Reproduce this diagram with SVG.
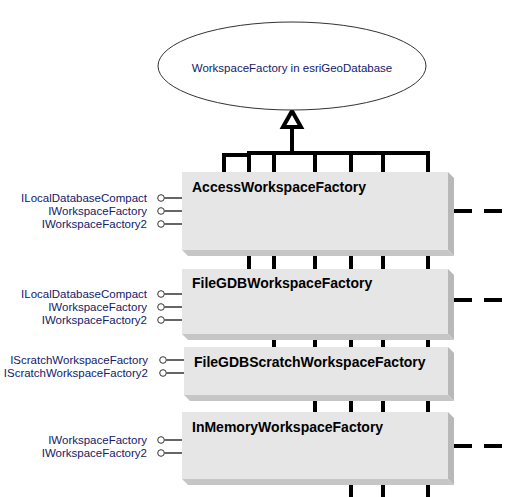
<svg xmlns="http://www.w3.org/2000/svg" width="505" height="497" viewBox="0 0 505 497">
<style>
.bus{stroke:#000;stroke-width:4;fill:none}
.dash{stroke:#000;stroke-width:4;stroke-dasharray:18 12;fill:none}
.face{fill:#e6e6e6}
.sr{fill:#b8b8b8}
.sb{fill:#c6c6c6}
.title{font-family:"Liberation Sans",Arial,sans-serif;font-weight:bold;font-size:14px;fill:#000}
.lbl{font-family:"Liberation Sans",Arial,sans-serif;font-size:11.5px;fill:#14206a;text-anchor:end}
.stick{stroke:#000;stroke-width:1.2}
.ball{fill:#fff;stroke:#333;stroke-width:1}
</style>
<rect width="505" height="497" fill="#fff"/>
<g id="connectors">
<line class="bus" x1="222" y1="155" x2="250" y2="155"/>
<line class="bus" x1="247" y1="153" x2="430" y2="153"/>
<line class="bus" x1="292" y1="127" x2="292" y2="153"/>
<polygon points="292,111 283,127 301,127" fill="#fff" stroke="#000" stroke-width="4"/>
<line class="bus" x1="224" y1="153" x2="224" y2="172"/>
<line class="bus" x1="249" y1="153" x2="249" y2="269"/>
<line class="bus" x1="274" y1="153" x2="274" y2="347"/>
<line class="bus" x1="315" y1="153" x2="315" y2="412"/>
<line class="bus" x1="351" y1="153" x2="351" y2="497"/>
<line class="bus" x1="383" y1="153" x2="383" y2="497"/>
<line class="bus" x1="428" y1="153" x2="428" y2="497"/>
<line class="dash" x1="454" y1="211" x2="505" y2="211"/>
<line class="dash" x1="454" y1="300" x2="505" y2="300"/>
<line class="dash" x1="454" y1="446" x2="505" y2="446"/>
</g>
<g id="esriGeoDatabase">
<ellipse cx="292" cy="66" rx="134" ry="44" fill="#fff" stroke="#333" stroke-width="1"/>
<text x="292" y="72" font-family="'Liberation Sans',Arial,sans-serif" font-size="11.5" fill="#14206a" text-anchor="middle">WorkspaceFactory in esriGeoDatabase</text>
</g>
<g id="AccessWorkspaceFactory">
<polygon class="sr" points="448,172 454,178 454,256 448,250"/>
<polygon class="sb" points="182,250 448,250 454,256 188,256"/>
<rect class="face" x="182" y="172" width="266" height="78"/>
<text class="title" x="192" y="192">AccessWorkspaceFactory</text>
<line class="stick" x1="164.5" y1="198" x2="182" y2="198"/><circle class="ball" cx="161" cy="198" r="3.3"/>
<line class="stick" x1="164.5" y1="211" x2="182" y2="211"/><circle class="ball" cx="161" cy="211" r="3.3"/>
<line class="stick" x1="164.5" y1="224" x2="182" y2="224"/><circle class="ball" cx="161" cy="224" r="3.3"/>
<text class="lbl" x="147" y="202">ILocalDatabaseCompact</text>
<text class="lbl" x="147" y="215">IWorkspaceFactory</text>
<text class="lbl" x="147" y="228">IWorkspaceFactory2</text>
</g>
<g id="FileGDBWorkspaceFactory">
<polygon class="sr" points="448,269 454,275 454,340 448,334"/>
<polygon class="sb" points="182,334 448,334 454,340 188,340"/>
<rect class="face" x="182" y="269" width="266" height="65"/>
<text class="title" x="192" y="288">FileGDBWorkspaceFactory</text>
<line class="stick" x1="164.5" y1="294" x2="182" y2="294"/><circle class="ball" cx="161" cy="294" r="3.3"/>
<line class="stick" x1="164.5" y1="307" x2="182" y2="307"/><circle class="ball" cx="161" cy="307" r="3.3"/>
<line class="stick" x1="164.5" y1="320" x2="182" y2="320"/><circle class="ball" cx="161" cy="320" r="3.3"/>
<text class="lbl" x="147" y="298">ILocalDatabaseCompact</text>
<text class="lbl" x="147" y="311">IWorkspaceFactory</text>
<text class="lbl" x="147" y="324">IWorkspaceFactory2</text>
</g>
<g id="FileGDBScratchWorkspaceFactory">
<polygon class="sr" points="448,347 454,353 454,401 448,395"/>
<polygon class="sb" points="184,395 448,395 454,401 190,401"/>
<rect class="face" x="184" y="347" width="264" height="48"/>
<text class="title" x="194" y="367">FileGDBScratchWorkspaceFactory</text>
<line class="stick" x1="166.5" y1="360" x2="184" y2="360"/><circle class="ball" cx="163" cy="360" r="3.3"/>
<line class="stick" x1="166.5" y1="373" x2="184" y2="373"/><circle class="ball" cx="163" cy="373" r="3.3"/>
<text class="lbl" x="148" y="364">IScratchWorkspaceFactory</text>
<text class="lbl" x="148" y="377">IScratchWorkspaceFactory2</text>
</g>
<g id="InMemoryWorkspaceFactory">
<polygon class="sr" points="448,412 454,418 454,485 448,479"/>
<polygon class="sb" points="182,479 448,479 454,485 188,485"/>
<rect class="face" x="182" y="412" width="266" height="67"/>
<text class="title" x="192" y="432">InMemoryWorkspaceFactory</text>
<line class="stick" x1="164.5" y1="440" x2="182" y2="440"/><circle class="ball" cx="161" cy="440" r="3.3"/>
<line class="stick" x1="164.5" y1="453" x2="182" y2="453"/><circle class="ball" cx="161" cy="453" r="3.3"/>
<text class="lbl" x="147" y="444">IWorkspaceFactory</text>
<text class="lbl" x="147" y="457">IWorkspaceFactory2</text>
</g>
</svg>
